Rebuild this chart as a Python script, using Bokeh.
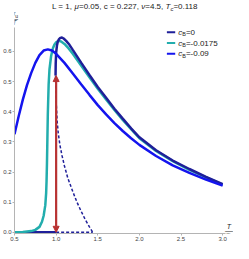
from bokeh.plotting import figure
from bokeh.models import Range1d, FixedTicker, Label, Arrow, NormalHead, NumeralTickFormatter
from bokeh.embed import file_html
from bokeh.resources import INLINE

# ---------------- data ----------------
# c_B = 0 : zero branch, stable upper branch, unstable (dashed) branch
T_cb0_zero = [0.5, 1.0]
O_cb0_zero = [0.0, 0.0]
T_cb0 = [0.993, 0.995, 1.0, 1.01, 1.02, 1.035, 1.05, 1.07, 1.09, 1.12, 1.16, 1.2, 1.3,
         1.4, 1.5, 1.6, 1.7, 1.8, 1.9, 2.0, 2.2, 2.4, 2.6, 2.8, 3.0]
O_cb0 = [0.52, 0.56, 0.595, 0.62, 0.633, 0.641, 0.645, 0.646, 0.643, 0.635, 0.622, 0.605, 0.563,
         0.522, 0.482, 0.446, 0.41, 0.377, 0.345, 0.315, 0.272, 0.238, 0.21, 0.184, 0.16]
T_cb0_unst = [0.993, 0.997, 1.003, 1.012, 1.025, 1.045, 1.07, 1.1, 1.14, 1.2, 1.25, 1.3, 1.35, 1.4, 1.44]
O_cb0_unst = [0.52, 0.47, 0.42, 0.37, 0.33, 0.29, 0.255, 0.22, 0.18, 0.135, 0.1, 0.07, 0.042, 0.018, 0.0]
T_cb0_unst_zero = [1.0, 1.44]
O_cb0_unst_zero = [0.0, 0.0]

# c_B = -0.0175
T_cb1 = [0.5, 0.6, 0.7, 0.75, 0.8, 0.83, 0.85, 0.87, 0.88, 0.885, 0.89, 0.895, 0.9, 0.91, 0.92,
         0.94, 0.96, 0.98, 1.0, 1.03, 1.06, 1.1, 1.15, 1.2, 1.3, 1.4, 1.5, 1.6, 1.7, 1.8, 1.9,
         2.0, 2.2, 2.4, 2.6, 2.8, 3.0]
O_cb1 = [0.0, 0.001, 0.004, 0.008, 0.018, 0.035, 0.055, 0.09, 0.13, 0.17, 0.23, 0.31, 0.39, 0.49, 0.54,
         0.585, 0.61, 0.623, 0.63, 0.635, 0.633, 0.625, 0.61, 0.592, 0.553, 0.514, 0.476, 0.441, 0.406,
         0.373, 0.342, 0.312, 0.27, 0.236, 0.207, 0.182, 0.158]

# c_B = -0.09
T_cb2 = [0.5, 0.55, 0.6, 0.65, 0.7, 0.75, 0.8, 0.85, 0.9, 0.95, 1.0, 1.1, 1.2, 1.3, 1.4, 1.5,
         1.6, 1.7, 1.8, 1.9, 2.0, 2.2, 2.4, 2.6, 2.8, 3.0]
O_cb2 = [0.325, 0.385, 0.44, 0.488, 0.528, 0.562, 0.588, 0.603, 0.607, 0.603, 0.592, 0.562, 0.527,
         0.491, 0.456, 0.422, 0.391, 0.362, 0.336, 0.312, 0.29, 0.253, 0.222, 0.197, 0.175, 0.155]

# jump at T = Tc
T_jump = 1.0
O_jump = [0.0, 0.52]

x_ticks = [0.5, 1.0, 1.5, 2.0, 2.5, 3.0]
y_ticks = [0.0, 0.1, 0.2, 0.3, 0.4, 0.5, 0.6]
legend_labels = ["=0", "=-0.0175", "=-0.09"]

# ---------------- styling ----------------
C0 = "#1f1f99"
C1 = "#22adad"
C2 = "#1414ee"
RED = "#b83232"
FONT = "Liberation Sans"
TXT = "#222222"

X0, X1 = 0.5, 3.13
Y0, Y1 = -0.004, 0.769
Y_AX_TOP = 0.68
FRAME_W, FRAME_H = 221.0, 233.0
PY = (Y1 - Y0) / FRAME_H      # data units per pixel (vertical)

p = figure(width=233, height=243, output_backend="svg", toolbar_location=None,
           x_range=Range1d(X0, X1), y_range=Range1d(Y0, Y1),
           min_border_left=0, min_border_right=0, min_border_top=0, min_border_bottom=0)
p.outline_line_color = None
p.grid.visible = False
p.background_fill_color = "white"

for ax in (p.xaxis[0], p.yaxis[0]):
    ax.axis_line_color = "#b4b4b4"
    ax.major_tick_line_color = "#b4b4b4"
    ax.minor_tick_line_color = None
    ax.major_tick_out = 2
    ax.major_tick_in = 0
    ax.major_label_text_font = FONT
    ax.major_label_text_font_size = "6px"
    ax.major_label_text_color = "#444444"
    ax.major_label_standoff = 1
    ax.formatter = NumeralTickFormatter(format="0.0")
p.xaxis.ticker = FixedTicker(ticks=x_ticks)
p.yaxis.ticker = FixedTicker(ticks=y_ticks)
p.xaxis.bounds = (0.5, 3.03)
p.yaxis.bounds = (Y0, Y_AX_TOP)

LW = 2.5
p.line(T_cb0_zero, O_cb0_zero, line_color=C0, line_width=LW)
p.line(T_cb0_unst_zero, O_cb0_unst_zero, line_color=C0, line_width=1.5, line_dash="3 2")
p.line(T_cb0_unst, O_cb0_unst, line_color=C0, line_width=1.5, line_dash="3 2")
p.line(T_cb1, O_cb1, line_color=C1, line_width=LW)
p.line(T_cb0, O_cb0, line_color=C0, line_width=LW)
p.line(T_cb2, O_cb2, line_color=C2, line_width=LW)

p.add_layout(Arrow(x_start=T_jump, y_start=O_jump[0], x_end=T_jump, y_end=O_jump[1],
                   line_color=RED, line_width=2.2,
                   start=NormalHead(size=6, fill_color=RED, line_color=RED),
                   end=NormalHead(size=6, fill_color=RED, line_color=RED)))

# width table (Arial / Liberation Sans metrics, per 1000 em)
W = {' ': 278, ',': 278, '.': 278, '=': 584, '-': 333, 'L': 556, 'c': 500, 'T': 611,
     'B': 667, 'μ': 576, 'ν': 500, 'σ': 600, 'u': 556}


def tw(s, size):
    return sum(W.get(ch, 556) for ch in s) * size / 1000.0


def lab(x, y, text, size, style="normal", align="left", baseline="middle", x_off=0.0):
    p.add_layout(Label(x=x, y=y, x_offset=x_off, text=text, text_font=FONT,
                       text_font_size=f"{size}px", text_font_style=style, text_color=TXT,
                       text_align=align, text_baseline=baseline))


def runs(x, y, parts, x_off=0.0, baseline="middle"):
    off = x_off
    for text, size, style, dy in parts:
        lab(x, y + dy * PY, text, size, style, "left", baseline, off)
        off += tw(text, size)
    return off


# title
title_parts = [("L = 1, ", 8, "normal", 0), ("μ", 8, "italic", 0),
               ("=0.05, c = 0.227, ", 8, "normal", 0), ("ν", 8, "italic", 0),
               ("=4.5, ", 8, "normal", 0), ("T", 8, "italic", 0), ("c", 6, "italic", -2),
               ("=0.118", 8, "normal", 0)]
total = sum(tw(t, s) for t, s, _, _ in title_parts)
runs(X0, Y1 - 6 * PY, title_parts, x_off=FRAME_W / 2 - total / 2)

# y-axis label (fraction)
num = [("σ", 7, "italic", 0), ("u", 5, "normal", -1.5)]
nw = sum(tw(t, s) for t, s, _, _ in num)
runs(X0, Y_AX_TOP + 10 * PY, num, x_off=-nw / 2, baseline="bottom")
lab(X0, Y_AX_TOP + 8.5 * PY, "—", 7, align="center")
lab(X0, Y_AX_TOP + 1 * PY, "T", 7, "italic", align="center", baseline="bottom")

# x-axis label (fraction)
XL = 3.075
lab(XL, 2.5 * PY, "T", 7, "italic", align="center", baseline="bottom")
lab(XL, 1.5 * PY, "—", 8, align="center")
den = [("T", 7, "italic", 0), ("c", 5, "italic", -1.5)]
dw = sum(tw(t, s) for t, s, _, _ in den)
runs(XL, 0.5 * PY, den, x_off=-dw / 2, baseline="top")

# legend
LX0, LX1 = 2.33, 2.43
LY = [0.664, 0.628, 0.592]
for col, yy, lb in zip([C0, C1, C2], LY, legend_labels):
    p.add_layout(Arrow(x_start=LX0, y_start=yy, x_end=LX1, y_end=yy, end=None,
                       line_color=col, line_width=2))
    runs(LX1, yy, [("c", 8, "italic", 0), ("B", 5.5, "normal", -2), (lb, 8, "normal", 0)], x_off=3)

open("out.html", "w").write(file_html(p, INLINE))
